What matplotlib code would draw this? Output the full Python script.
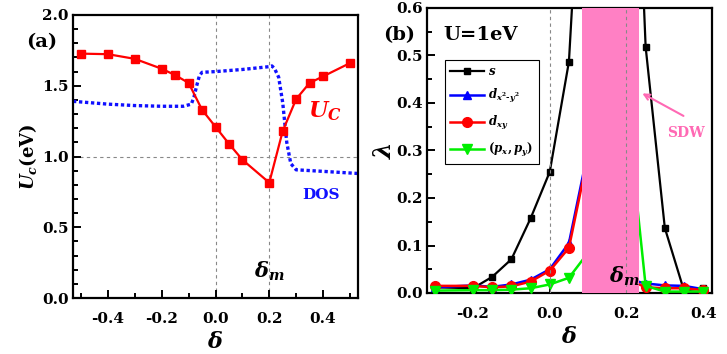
import matplotlib
matplotlib.use("Agg")
import matplotlib.pyplot as plt
from matplotlib.ticker import MultipleLocator, FormatStrFormatter

plt.rcParams['font.family'] = ['DejaVu Serif']
plt.rcParams['font.weight'] = 'bold'
plt.rcParams['mathtext.fontset'] = 'custom'
plt.rcParams['mathtext.rm'] = 'DejaVu Serif:bold'
plt.rcParams['mathtext.it'] = 'DejaVu Serif:italic:bold'
plt.rcParams['mathtext.bf'] = 'DejaVu Serif:bold'

# ---- Panel (a) data ----
uc_delta = [-0.5, -0.4, -0.3, -0.2, -0.15, -0.1, -0.05, 0.0, 0.05, 0.1, 0.2, 0.25, 0.3, 0.35, 0.4, 0.5]
uc_values = [1.727, 1.723, 1.69, 1.62, 1.575, 1.52, 1.33, 1.21, 1.09, 0.977, 0.815, 1.18, 1.406, 1.52, 1.566, 1.66]

dos_delta = [-0.53, -0.4, -0.3, -0.2, -0.12, -0.09, -0.08, -0.07, -0.06, -0.05, 0.0, 0.1, 0.2,
             0.21, 0.22, 0.235, 0.25, 0.265, 0.28, 0.30, 0.4, 0.53]
dos_values = [1.39, 1.37, 1.36, 1.355, 1.355, 1.37, 1.42, 1.50, 1.57, 1.595, 1.60, 1.615, 1.635,
              1.64, 1.62, 1.56, 1.38, 1.10, 0.95, 0.906, 0.895, 0.88]

# ---- Panel (b) data ----
lam_delta = [-0.3, -0.2, -0.15, -0.1, -0.05, 0.0, 0.05, 0.1, 0.15, 0.2, 0.25, 0.3, 0.35, 0.4]
lam_s = [0.012, 0.010, 0.034, 0.071, 0.157, 0.255, 0.487, 1.2, 2.0, 1.5, 0.518, 0.137, 0.005, 0.010]
lam_dx2y2 = [0.012, 0.016, 0.013, 0.018, 0.028, 0.050, 0.105, 0.30, 0.40, 0.03, 0.020, 0.016, 0.015, 0.008]
lam_dxy = [0.015, 0.015, 0.012, 0.014, 0.024, 0.047, 0.095, 0.29, 0.40, 0.03, 0.012, 0.010, 0.010, 0.006]
lam_p = [0.005, 0.006, 0.006, 0.007, 0.010, 0.018, 0.032, 0.085, 0.2, 0.40, 0.015, 0.003, 0.003, 0.003]
sdw_range = [0.083, 0.232]
delta_m = 0.2

fig = plt.figure(figsize=(7.27, 3.54), dpi=100)
W, H = 727, 354
axa = fig.add_axes([73 / W, 1 - 298 / H, 285 / W, 283 / H])
axb = fig.add_axes([427 / W, 1 - 293 / H, 285 / W, 285 / H])

gray = dict(color='#888888', linestyle=(0, (3, 3)), linewidth=0.8)

# Panel (a)
axa.axvline(0.0, zorder=1, **gray)
axa.axvline(delta_m, zorder=1, **gray)
axa.axhline(1.0, zorder=1, **gray)
axa.plot(dos_delta, dos_values, color='#1010ff', linestyle=(0, (1.0, 0.8)), linewidth=2.4, zorder=2)
axa.plot(uc_delta, uc_values, color='#ff0000', marker='s', markersize=5.5, linewidth=1.6, zorder=3)
axa.set_xlim(-0.53, 0.53)
axa.set_ylim(0, 2.0)
axa.xaxis.set_major_locator(MultipleLocator(0.2))
axa.xaxis.set_minor_locator(MultipleLocator(0.1))
axa.yaxis.set_major_locator(MultipleLocator(0.5))
axa.yaxis.set_minor_locator(MultipleLocator(0.1))
axa.yaxis.set_major_formatter(FormatStrFormatter('%.1f'))
axa.xaxis.set_major_formatter(FormatStrFormatter('%.1f'))
axa.set_ylabel(r'$U_c$(eV)', fontsize=13, fontweight='bold', labelpad=2)
axa.set_xlabel(r'$\delta$', fontsize=16, labelpad=4)
axa.text(0.407, 1.32, r'$U_C$', color='#ff0000', fontsize=16, ha='center', va='center')
axa.text(0.393, 0.725, 'DOS', color='#1010ff', fontsize=11, fontweight='bold', ha='center', va='center')
axa.text(delta_m, 0.185, r'$\delta_m$', fontsize=15, ha='center', va='center')
fig.text(42 / W, 1 - 42 / H, '(a)', fontsize=14, fontweight='bold', ha='center', va='center')

# Panel (b)
axb.axvspan(sdw_range[0], sdw_range[1], color='#ff80c4', zorder=5, linewidth=0)
axb.axvline(0.0, zorder=6, **gray)
axb.axvline(delta_m, zorder=6, **gray)
axb.plot(lam_delta, lam_s, color='black', marker='s', markersize=5, linewidth=1.6, zorder=2,
         label=r'$s$')
axb.plot(lam_delta, lam_dx2y2, color='#0000ff', marker='^', markersize=6, linewidth=1.8, zorder=3,
         label=r'$d_{x^2\text{-}y^2}$')
axb.plot(lam_delta, lam_dxy, color='#ff0000', marker='o', markersize=7, linewidth=1.8, zorder=3.5,
         label=r'$d_{xy}$')
axb.plot(lam_delta, lam_p, color='#00ee00', marker='v', markersize=7, linewidth=1.8, zorder=4,
         label=r'$(p_x,p_y)$')
axb.set_xlim(-0.32, 0.423)
axb.set_ylim(0, 0.6)
axb.xaxis.set_major_locator(MultipleLocator(0.2))
axb.xaxis.set_minor_locator(MultipleLocator(0.1))
axb.yaxis.set_major_locator(MultipleLocator(0.1))
axb.yaxis.set_minor_locator(MultipleLocator(0.05))
axb.yaxis.set_major_formatter(FormatStrFormatter('%.1f'))
axb.xaxis.set_major_formatter(FormatStrFormatter('%.1f'))
axb.set_ylabel(r'$\lambda$', fontsize=17, labelpad=0)
axb.set_xlabel(r'$\delta$', fontsize=16, labelpad=4)
axb.text(-0.18, 0.543, 'U=1eV', fontsize=14, fontweight='bold', ha='center', va='center')
axb.text(0.355, 0.337, 'SDW', color='#ff69b4', fontsize=10, fontweight='bold', ha='center', va='center')
axb.annotate('', xy=(0.235, 0.423), xytext=(0.355, 0.37),
             arrowprops=dict(arrowstyle='->', color='#ff69b4', lw=1.5))
axb.text(delta_m - 0.005, 0.036, r'$\delta_m$', fontsize=15, ha='center', va='center', zorder=7)
fig.text(399 / W, 1 - 35 / H, '(b)', fontsize=14, fontweight='bold', ha='center', va='center')
leg = axb.legend(loc='upper left', bbox_to_anchor=(0.062, 0.818), fontsize=8.5, frameon=True,
                 fancybox=False, edgecolor='black', framealpha=1, handlelength=2.9,
                 borderpad=0.45, labelspacing=0.75, handletextpad=0.35, borderaxespad=0)
leg.get_frame().set_linewidth(0.8)
leg.set_zorder(10)

for ax in (axa, axb):
    for sp in ax.spines.values():
        sp.set_linewidth(1.6)
    ax.tick_params(which='both', direction='in', top=False, right=False, width=1.4)
    ax.tick_params(which='major', length=6, labelsize=11)
    ax.tick_params(which='minor', length=3.5)
    ax.tick_params(axis='x', which='major', pad=10)
    ax.tick_params(axis='y', which='major', pad=3)
    for lab in ax.get_xticklabels() + ax.get_yticklabels():
        lab.set_fontweight('bold')

fig.savefig('out.png', dpi=100)
